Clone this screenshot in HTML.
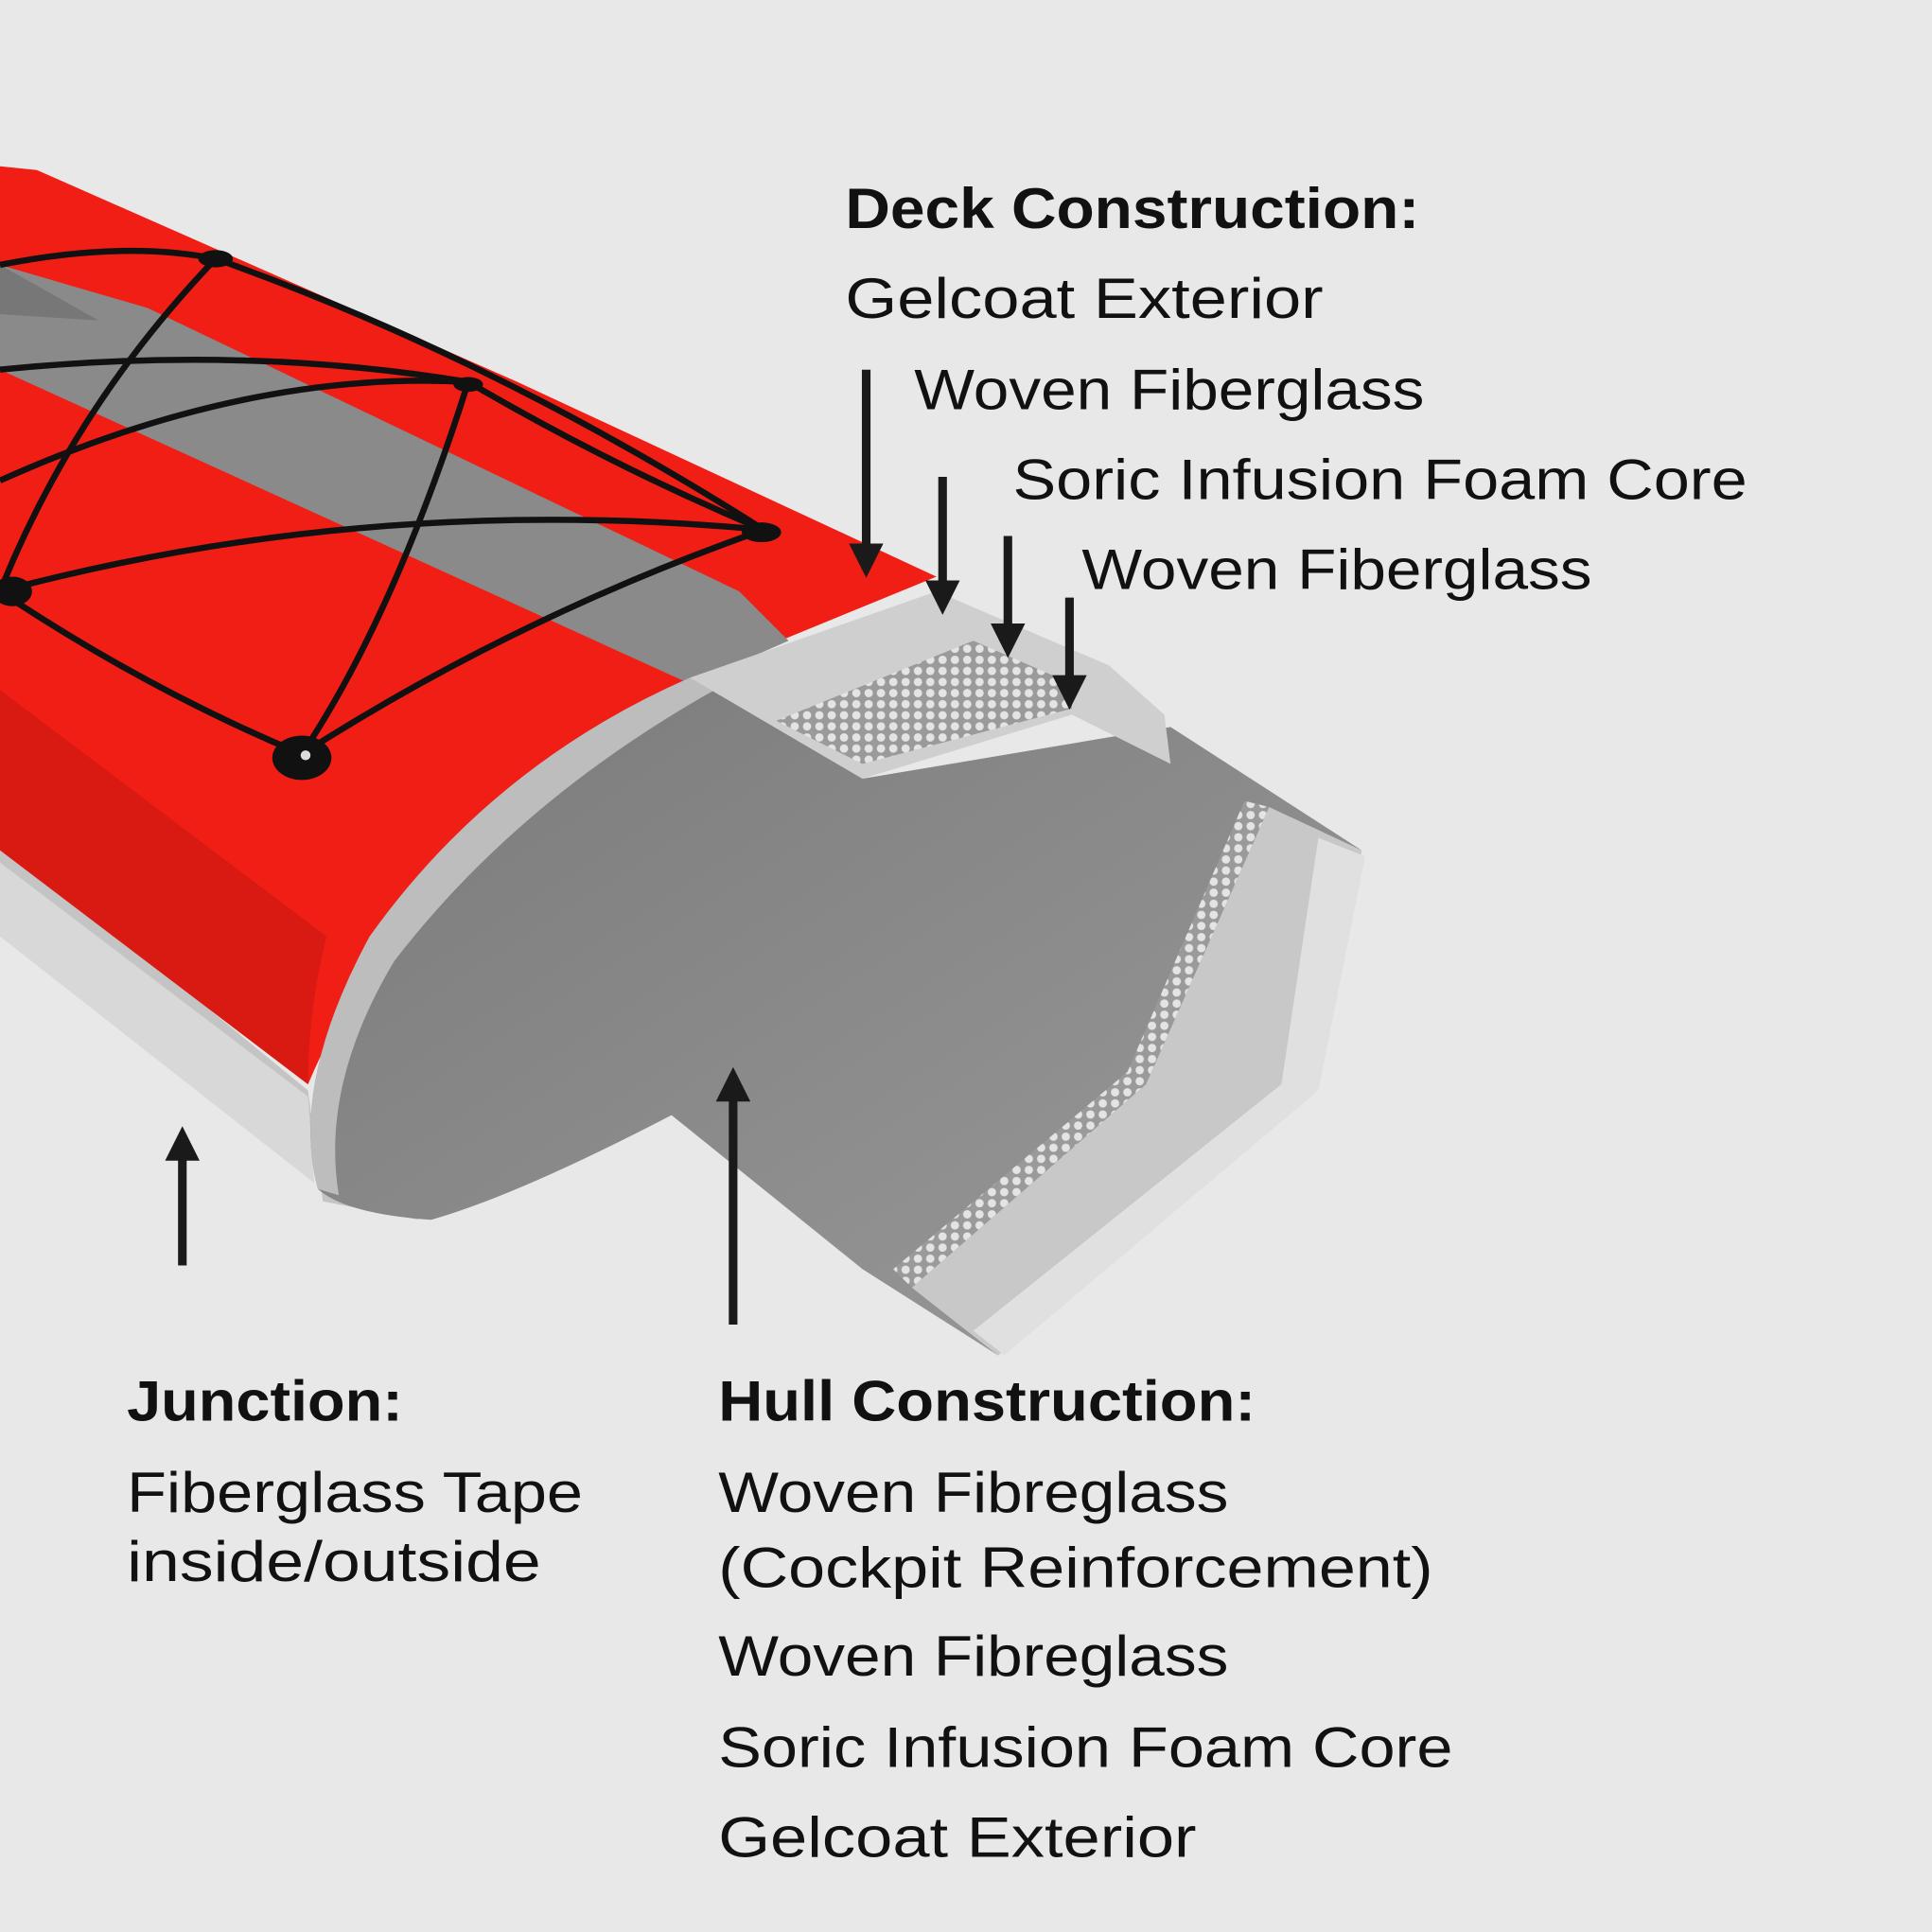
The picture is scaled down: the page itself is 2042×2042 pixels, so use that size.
<!DOCTYPE html>
<html><head><meta charset="utf-8"><style>
html,body{margin:0;padding:0;background:#e8e8e8;}
svg{display:block}
text{font-family:"Liberation Sans",sans-serif;fill:#111;font-size:46px}
.b{font-weight:bold}
</style></head><body>
<svg width="2042" height="2042" viewBox="0 0 1568 1568" xmlns="http://www.w3.org/2000/svg">
<defs>
<marker id="ah" markerWidth="4" markerHeight="4" refX="2" refY="2" orient="auto" markerUnits="strokeWidth">
<path d="M0,0 L4,2 L0,4 z" fill="#1a1a1a"/></marker>
<pattern id="hex" width="10" height="9" patternUnits="userSpaceOnUse">
<rect width="10" height="9" fill="#9a9a9a"/><circle cx="5" cy="4.5" r="3.4" fill="#e4e4e4"/></pattern>
<linearGradient id="inner" x1="0" y1="0" x2="1" y2="1">
<stop offset="0" stop-color="#7a7a7a"/><stop offset="1" stop-color="#9a9a9a"/></linearGradient>
</defs>
<rect width="1568" height="1568" fill="#e8e8e8"/>
<polygon points="0,680 250,885 262,975 340,990 0,740" fill="#c4c4c4"/>
<polygon points="0,700 250,890 255,960 0,760" fill="#d8d8d8"/>
<path d="M0,135 L30,138 L420,310 L760,468 L560,550 Q330,690 250,880 L0,690 Z" fill="#f01e14"/>
<path d="M0,560 L265,760 Q250,820 250,880 L0,690 Z" fill="#d81a12"/>
<polygon points="0,215 0,300 560,555 640,520 600,480 120,250" fill="#8a8a8a"/>
<polygon points="0,215 0,255 80,260" fill="#777"/>
<path d="M560,550 L700,632 L950,590 L1105,690 L1065,880 L810,1100 L700,1030 L545,905 Q420,970 350,990 Q280,985 258,965 Q235,880 300,760 Q400,620 560,550 Z" fill="url(#inner)"/>
<path d="M560,550 L580,560 Q420,650 320,780 Q260,880 275,970 L258,965 Q235,880 300,760 Q400,620 560,550 Z" fill="#bdbdbd"/>
<polygon points="1030,655 1105,690 1065,880 810,1100 740,1045 930,880" fill="#c8c8c8"/>
<polygon points="1010,650 1030,655 930,880 740,1045 725,1030 915,870" fill="url(#hex)"/>
<polygon points="1070,680 1108,695 1070,885 815,1100 790,1080 1040,880" fill="#e0e0e0"/>
<polygon points="560,550 760,480 900,540 945,580 950,620 870,580 700,632" fill="#cfcfcf"/>
<polygon points="630,585 790,520 870,555 870,575 700,620" fill="url(#hex)"/>
<g stroke="#111" stroke-width="5" fill="none">
<path d="M0,215 Q100,195 175,210 Q400,290 620,430"/>
<path d="M0,300 Q200,280 380,310 Q500,380 620,430"/>
<path d="M0,480 Q300,400 620,430"/>
<path d="M175,210 Q60,330 0,480"/>
<path d="M380,310 Q320,500 245,612"/>
<path d="M0,480 Q120,560 245,612"/>
<path d="M245,612 Q420,500 620,430"/>
<path d="M0,390 Q200,300 380,310"/>
</g>
<g fill="#111"><ellipse cx="175" cy="210" rx="14" ry="7"/><ellipse cx="380" cy="312" rx="12" ry="6"/><ellipse cx="618" cy="432" rx="16" ry="8"/><ellipse cx="10" cy="480" rx="16" ry="12"/><ellipse cx="245" cy="615" rx="24" ry="18"/></g>
<circle cx="248" cy="613" r="4" fill="#ddd"/>
<g stroke="#1a1a1a" stroke-width="7" marker-end="url(#ah)">
<line x1="703" y1="300" x2="703" y2="455"/>
<line x1="765" y1="387" x2="765" y2="485"/>
<line x1="818" y1="435" x2="818" y2="520"/>
<line x1="868" y1="485" x2="868" y2="562"/>
<line x1="148" y1="1027" x2="148" y2="928"/>
<line x1="595" y1="1075" x2="595" y2="880"/>
</g>
<text x="686" y="185" class="b" textLength="466" lengthAdjust="spacingAndGlyphs">Deck Construction:</text>
<text x="686" y="258" textLength="388" lengthAdjust="spacingAndGlyphs">Gelcoat Exterior</text>
<text x="742" y="332" textLength="414" lengthAdjust="spacingAndGlyphs">Woven Fiberglass</text>
<text x="822" y="405" textLength="596" lengthAdjust="spacingAndGlyphs">Soric Infusion Foam Core</text>
<text x="878" y="478" textLength="414" lengthAdjust="spacingAndGlyphs">Woven Fiberglass</text>
<text x="103" y="1153" class="b" textLength="224" lengthAdjust="spacingAndGlyphs">Junction:</text>
<text x="103" y="1227" textLength="370" lengthAdjust="spacingAndGlyphs">Fiberglass Tape</text>
<text x="103" y="1283" textLength="336" lengthAdjust="spacingAndGlyphs">inside/outside</text>
<text x="583" y="1153" class="b" textLength="436" lengthAdjust="spacingAndGlyphs">Hull Construction:</text>
<text x="583" y="1227" textLength="414" lengthAdjust="spacingAndGlyphs">Woven Fibreglass</text>
<text x="583" y="1288" textLength="580" lengthAdjust="spacingAndGlyphs">(Cockpit Reinforcement)</text>
<text x="583" y="1360" textLength="414" lengthAdjust="spacingAndGlyphs">Woven Fibreglass</text>
<text x="583" y="1434" textLength="596" lengthAdjust="spacingAndGlyphs">Soric Infusion Foam Core</text>
<text x="583" y="1507" textLength="388" lengthAdjust="spacingAndGlyphs">Gelcoat Exterior</text>
</svg>
</body></html>
